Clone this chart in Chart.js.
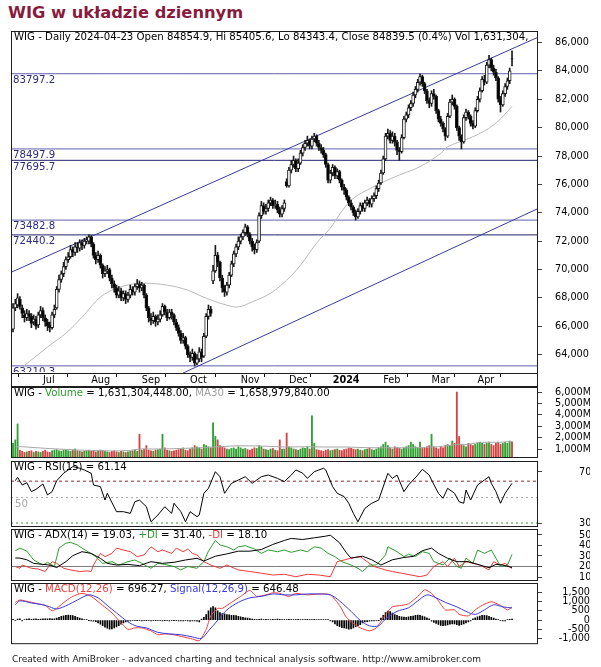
<!DOCTYPE html>
<html lang="pl">
<head>
<meta charset="UTF-8">
<meta name="viewport" content="width=device-width, initial-scale=1.0">
<title>WIG w układzie dziennym</title>
<style>
  body { margin: 0; background: #fff; font-family: 'DejaVu Sans', Verdana, sans-serif; }
  .page { position: relative; width: 601px; height: 667px; overflow: hidden; }
  .page canvas { position: absolute; left: 0; top: 0; }
  .title { position: absolute; left: 8px; top: 3px; margin: 0; font-size: 16.3px; line-height: 19px; font-weight: bold; color: #8a1a3c; white-space: nowrap; }
  .footer { position: absolute; left: 12px; top: 654px; font-size: 9px; line-height: 11px; color: #222; white-space: nowrap; }
</style>
</head>
<body>
<div class="page">
  <h1 class="title">WIG w układzie dziennym</h1>
  <canvas id="priceChart" width="601" height="667"></canvas>
  <canvas id="volChart" width="601" height="667"></canvas>
  <canvas id="rsiChart" width="601" height="667"></canvas>
  <canvas id="adxChart" width="601" height="667"></canvas>
  <canvas id="macdChart" width="601" height="667"></canvas>
  <div class="footer">Created with AmiBroker - advanced charting and technical analysis software. http://www.amibroker.com</div>
</div>

<script src="https://cdn.jsdelivr.net/npm/chart.js"></script>
<script>
// WIG daily bars, 2023-06-14 .. 2024-04-23 (bar index 0..217)
const monthLabels = ['Jul', 'Aug', 'Sep', 'Oct', 'Nov', 'Dec', '2024', 'Feb', 'Mar', 'Apr'];
const monthIdx = [13, 34, 56, 77, 99, 120, 139, 161, 182, 202];

const opens = [
  65800,67300,67500,67900,67300,66800,66600,66900,66700,66300,
  66500,66100,66800,67100,66600,66300,66100,65900,66800,67300,
  68600,69300,69700,70200,70700,70900,71400,71200,71600,71500,
  71900,71700,72000,72000,72300,71800,71000,70700,71000,70300,
  69700,69900,70000,69400,69000,68700,68200,68500,68000,68300,
  67900,68200,68600,68400,68800,69000,68700,68900,68200,67300,
  66600,66400,66700,66300,66500,66800,67400,67000,66600,67000,
  66800,66300,65900,65500,65000,65200,64600,64000,63800,64100,
  63400,63700,64200,63900,65300,66700,67200,69200,69900,71000,
  70500,69400,68700,68400,68900,69600,70400,71100,71600,72000,
  72300,72600,73000,72500,72000,71600,71400,72000,73800,74500,
  74100,74300,74700,74900,74500,74600,74200,73900,74300,76200,
  75900,77000,77400,77700,77100,77500,78200,78600,78900,79100,
  78700,79200,79400,78900,78600,78400,78100,77400,76300,76800,
  77200,76600,76900,76300,75800,75600,75100,74700,74400,74000,
  73700,74100,74500,74300,74700,74900,74600,75000,75200,75700,
  76100,76800,77800,79400,79600,79100,79400,79000,78400,78300,
  79300,80600,80900,81400,81700,82300,82700,83200,83600,83100,
  82600,81900,81700,82400,82200,81200,80600,80300,79900,79400,
  80800,81800,82000,81500,80000,79400,79000,80700,81100,80800,
  80300,80100,81200,82000,82600,83400,83200,84400,84800,84200,
  83900,83500,82000,81600,82400,82900,83300,84855
];
const highs = [
  67600,67900,68300,68100,67500,67100,67200,67100,66900,66800,
  66700,67000,67400,67300,66800,66500,66300,67000,67500,68800,
  69600,69900,70500,70900,71200,71700,71600,71900,71900,72100,
  72100,72200,72300,72440,72400,71900,71200,71300,71100,70400,
  70200,70300,70100,69600,69200,68900,68800,68700,68500,68500,
  68400,68900,68800,69000,69300,69200,69100,69000,68300,67400,
  66900,67000,66800,66800,67100,67600,67500,67200,67200,67200,
  66900,66500,66100,65700,65500,65300,64700,64200,64400,64200,
  64000,64500,64400,65500,66900,67500,67400,70300,71700,71200,
  70600,69600,68900,69100,69800,70600,71300,71800,72300,72500,
  72800,73200,73100,72600,72200,71800,72100,74000,74800,74700,
  74600,74900,75100,75000,74900,74800,74400,74500,74900,76400,
  77200,77700,78000,77800,77800,78400,78800,79100,79400,79200,
  79400,79600,79500,79100,78800,78600,78200,77500,77000,77400,
  77300,77100,77000,76400,76000,75700,75200,74900,74500,74200,
  74300,74700,74700,74900,75100,75000,75200,75400,75900,76300,
  77000,78000,79600,79900,79800,79700,79600,79100,78600,79500,
  80800,81100,81600,81900,82500,82900,83400,83797,83700,83200,
  82700,82100,82600,82700,82300,81300,80800,80400,80000,81000,
  82000,82300,82100,81600,80100,79500,80900,81300,81200,80900,
  80500,81400,82200,82800,83600,83700,84600,85100,84900,84400,
  84100,83600,82200,82600,83100,83500,84200,85406
];
const lows = [
  65600,67100,67300,67200,66600,66300,66400,66400,65900,66100,
  65800,65900,66600,66400,66000,65700,65600,65800,66600,67200,
  68400,69100,69500,70000,70500,70800,70900,71000,71200,71300,
  71400,71500,71800,71800,71600,70800,70400,70500,70100,69400,
  69500,69700,69200,68700,68400,68000,68000,67800,67800,67600,
  67700,68000,68200,68200,68600,68400,68500,68000,67100,66300,
  66100,66200,66000,66100,66300,66700,66800,66400,66500,66500,
  66100,65700,65300,64800,64800,64400,63800,63500,63600,63210,
  63300,63500,63500,63800,65200,66500,66700,69000,69800,70200,
  69200,68400,68100,68200,68700,69500,70200,70900,71400,71800,
  72100,72400,72300,71800,71300,71100,71200,71900,73600,73900,
  73900,74100,74500,74300,74300,74000,73700,73700,74100,75800,
  75800,76800,77200,76900,76900,77400,78000,78400,78700,78500,
  78500,79000,78700,78400,78200,77900,77200,76100,76100,76600,
  76400,76400,76100,75600,75300,74900,74500,74200,73800,73483,
  73600,73900,74100,74100,74500,74400,74400,74800,75000,75500,
  76000,76700,77700,79200,78900,78900,78700,78100,77696,78200,
  79200,80400,80700,81200,81500,82100,82500,83000,82900,82400,
  81700,81400,81500,82000,81000,80400,80100,79700,79100,79300,
  80700,81600,81300,79800,79100,78498,78900,80500,80600,80100,
  79900,80000,81100,81800,82500,83000,83100,84200,84000,83700,
  83300,81800,81100,81500,82200,82700,83100,84343
];
const closes = [
  67300,67600,68000,67400,66900,66600,66900,66700,66200,66500,
  66000,66800,67100,66600,66300,66000,65900,66800,67200,68600,
  69300,69700,70200,70700,70900,71400,71200,71600,71500,71900,
  71700,72000,72100,72300,71800,71000,70700,71000,70300,69700,
  69900,70000,69400,69000,68700,68200,68500,68000,68300,67900,
  68200,68600,68400,68800,69000,68700,68900,68200,67300,66600,
  66400,66700,66300,66500,66800,67400,67000,66600,67000,66800,
  66300,65900,65500,65000,65200,64600,64000,63800,64100,63400,
  63700,64200,63800,65300,66700,67200,66900,69900,71000,70500,
  69400,68700,68400,68900,69600,70400,71100,71600,72000,72300,
  72600,73000,72500,72000,71600,71400,71900,73800,74500,74100,
  74300,74700,74900,74500,74600,74200,73900,74300,74700,75900,
  77000,77400,77700,77100,77500,78200,78600,78900,79100,78700,
  79200,79400,78900,78600,78400,78100,77400,76300,76800,77200,
  76600,76900,76300,75800,75600,75100,74700,74400,74000,73700,
  74100,74500,74300,74700,74900,74600,75000,75200,75700,76100,
  76800,77800,79400,79600,79100,79400,79000,78400,78300,79300,
  80600,80900,81400,81700,82300,82700,83200,83600,83100,82600,
  81900,81700,82400,82200,81200,80600,80300,79900,79400,80800,
  81800,82000,81500,80000,79400,79000,80700,81100,80800,80300,
  80100,81200,82000,82600,83400,83200,84400,84800,84200,83900,
  83500,82000,81600,82400,82900,83300,84000,84839.5
];
// volume in millions
const volumes = [
  1500,1800,3200,900,800,700,750,800,850,700,
  800,750,700,800,900,750,700,850,900,950,
  850,800,900,950,850,800,900,1000,850,800,
  750,800,850,900,800,850,750,800,900,850,
  800,750,700,800,850,750,700,800,750,700,
  750,800,850,900,800,2300,900,1000,1300,900,
  850,800,900,950,1000,2300,1100,900,850,800,
  850,900,950,1000,1100,900,850,1000,1100,1300,
  1200,1100,1000,1400,1300,1200,1100,3300,2100,1800,
  1300,1200,1100,1000,950,1050,1100,1000,1200,1100,
  1000,1050,950,900,1000,1100,1050,1300,1200,1000,
  950,900,1000,1050,900,850,1800,1000,1000,2400,
  1200,1100,1000,950,900,1000,1100,1050,1200,1000,
  3900,1500,950,900,850,800,900,950,850,900,
  950,1000,900,850,950,1000,1100,1050,1000,950,
  1000,900,850,950,1000,1100,950,900,1000,1100,
  1200,1400,1600,1300,1100,1000,1200,1100,1050,1000,
  1100,1200,1300,1600,1400,1200,1100,1600,1050,1100,
  1200,1300,2300,1200,1100,1000,1200,1100,1300,1400,
  1300,1700,1500,6000,2100,1400,1300,1200,1500,1400,
  1300,1400,1500,1600,1500,1400,1500,1600,1400,1300,
  1500,1600,1400,1500,1600,1500,1700,1631
];

// gray moving average on price
const maIdx = [4,16,23,30,38,45,52,57,67,76,84,93,98,104,112,119,125,132,138,144,149,154,160,168,177,186,189,200,209,217];
const maVal = [63110,64660,65510,66640,68050,68680,68970,69040,68900,68540,67980,67490,67370,67720,68330,69250,70300,71860,72920,74330,75130,75600,76090,76660,77250,78180,78650,79360,80190,81480];

// horizontal support / resistance levels and trend channel
const levelValues = [83797.2, 78497.9, 77695.7, 73482.8, 72440.2, 63210.3];
const levelDark = [false, false, true, false, true, false];
const upperChannelX = [-0.9, 228.3];
const upperChannelY = [69800, 86370];
const lowerChannelX = [73.9, 228.3];
const lowerChannelY = [62700, 74296];

// volume MA30 (millions)
const vmaIdx = [1,4,14,28,44,51,55,65,75,81,90,98,108,118,128,135,145,155,165,175,185,193,198,203,212,217];
const vmaVal = [1200,1200,1060,910,820,880,1000,1000,1060,1110,1200,1290,1260,1175,1200,1175,1175,1110,1110,1110,1200,1410,1410,1590,1590,1659];

// RSI(15)
const rsiIdx = [1,2,4,6,8,10,13,15,17,19,22,24,26,29,31,34,35,38,40,41,45,48,51,53,55,58,60,63,66,69,70,73,75,77,80,81,83,85,88,90,92,95,98,101,104,106,108,111,115,118,121,123,126,128,131,135,136,139,141,144,146,148,150,153,156,159,162,163,165,167,170,172,176,178,181,182,185,187,189,192,194,196,197,199,202,205,207,208,210,212,214,217];
const rsiVal = [63.2,65.8,59.8,61.6,54.6,56.4,60.6,52,54.6,63.2,69,71.6,74.2,72.9,71.6,69,59.8,58.5,48,53.3,38.9,38.9,37.6,46.7,48,42.8,31,36.3,42.8,37.6,45.5,38.9,31,38.9,35,36.3,53.3,57.2,70.2,66.3,53.3,61.1,63.7,66.3,61.1,63.7,66.3,67.6,65,62.4,67.6,71.6,69,65,70.2,72.9,71.6,58.5,53.3,50.7,45.5,37.6,31,41.5,45.5,48,63.7,69,65,67.6,54.6,59.8,67.6,72.1,67.6,63.7,53.3,49.4,57.2,53.3,46.7,45.5,55.9,48,59.8,63.7,66.3,61.1,54.6,45.5,53.3,61.14];
const rsiLevels = [62.8, 50, 30];

// ADX(14), +DI, -DI
const adxIdx = [1,3,6,9,13,16,19,23,26,30,34,38,41,45,50,55,60,65,70,75,80,83,88,93,98,103,108,113,118,121,126,131,136,138,142,145,147,152,156,160,165,170,174,178,182,185,189,193,198,203,207,210,213,217];
const adxVal = [28.1,28,26.4,23,22,21.4,19,24.6,30.3,34.1,32.5,27.8,23,21.4,22,20.8,24.6,23,24,26.2,27.8,25.2,29.8,32,34.6,34.6,36.2,41,44.8,46.7,45.7,47.3,48.9,49.8,42.6,33,28,29.8,26.4,21.4,26.4,28.6,29.6,35,37.5,32.5,27.8,24.6,24.6,21.4,18.9,22,21.4,19.03];
const pdiIdx = [1,3,6,9,13,15,18,20,23,25,28,30,33,36,39,43,46,50,53,56,60,63,66,70,73,76,80,83,85,88,90,93,96,98,101,105,108,111,115,118,121,125,128,131,134,137,140,143,147,150,152,155,158,162,163,167,170,172,175,178,181,183,187,190,193,195,197,200,202,205,208,210,212,215,217];
const pdiVal = [35,37.5,34.6,26.2,21.4,24,20,37.5,42.2,43,40.5,37.5,33.5,29.4,23,24.6,21.4,24.6,26.2,23,18.3,23,22,20,16.7,20,18.3,24.6,34.6,44.8,40.5,38.8,35.7,38.8,39.8,36.7,32.5,35.7,34.1,35.7,33.5,35.7,34.1,38.8,37.5,32.5,29.4,24.6,21.4,18.3,15.2,21.4,21.4,31,38.8,34.1,29.4,31.7,29.4,34.1,32.5,24.6,21.4,28,20,18.3,28,23,35.7,32.5,35.7,28,20,21.4,31.4];
const mdiIdx = [1,3,4,8,11,14,17,19,22,25,29,32,34,35,38,40,43,45,48,51,54,57,60,63,65,69,71,74,76,78,80,83,86,90,93,98,103,108,113,118,123,128,133,138,141,144,147,151,154,157,162,165,169,173,177,180,183,187,189,192,194,197,200,203,207,209,212,214,217];
const mdiVal = [20,18.3,21.4,18.3,17.6,15.2,24.6,23,18.3,16.7,15.2,15.8,15.2,21.4,32.5,29.4,32.5,37.5,35.7,34.1,29.4,31,38.8,34.1,35.7,32.5,37.5,34.1,36.7,32.5,31,24.6,21.4,18.3,21.4,16.7,15.2,13.6,11.9,12.6,10.3,12.6,11.9,10.3,24.6,26.2,28,29.4,24.6,20,16.7,15.2,13.6,11.9,10.3,11.9,20,24.6,20,28,20,24.6,23,21.4,16.7,24.6,21.4,23,18.1];

// MACD(12,26), Signal(12,26,9), histogram per bar
const macdIdx = [1,3,8,11,14,17,19,23,26,30,34,39,43,46,50,53,56,60,63,66,70,74,78,81,84,86,89,91,95,99,103,106,110,113,116,120,123,128,133,138,142,145,148,151,155,158,162,165,169,172,176,179,182,185,188,192,194,198,201,204,208,212,215,217];
const macdVal = [947,1073,947,866,784,496,625,1025,1266,1428,1266,784,385,-16,-497,-417,-417,-577,-785,-737,-785,-898,-1010,-1106,-497,225,625,625,947,1266,1587,1266,1347,1459,1427,1266,1427,1347,1395,1347,784,144,-176,-417,-577,-417,304,706,784,866,1266,1620,1427,1025,545,545,304,225,545,784,978,784,545,696];
const sigIdx = [1,3,8,13,16,19,24,28,33,37,41,45,50,54,58,63,68,73,78,82,85,89,93,98,103,108,113,118,123,128,133,138,142,147,151,155,159,162,167,172,176,180,184,188,193,197,201,205,209,213,217];
const sigVal = [818,1025,914,818,706,593,818,1073,1347,1187,784,385,-96,-337,-417,-657,-737,-785,-898,-978,-577,-16,545,947,1187,1266,1395,1347,1347,1395,1395,1347,1025,465,-16,-305,-305,64,465,658,1025,1347,1187,947,706,465,304,545,818,706,646];
const histVal = [
  40,-30,50,60,-40,30,50,60,40,50,60,40,
  50,60,70,60,80,70,
  60,100,150,200,230,260,270,260,240,200,150,100,60,
  30,20,-20,-40,-60,
  -80,-150,-220,-300,-380,-430,-480,-470,-420,-360,-300,-220,-150,
  -100,-60,-40,-30,
  -30,-20,-30,-40,-30,-20,-30,-40,-30,-20,-30,-30,-40,-20,-30,-40,-30,-20,-30,-40,-50,-40,-30,-50,-60,-40,-50,-60,
  -100,50,150,
  300,500,650,720,650,
  500,400,350,330,300,280,260,250,240,200,180,150,120,100,80,
  50,40,30,40,50,30,40,30,20,40,30,50,40,30,20,30,40,30,20,30,40,30,20,30,40,20,30,40,30,20,30,20,30,20,-40,
  -100,-200,-300,-350,-400,-420,
  -450,-480,-470,-420,-350,-300,-250,-150,
  -100,-80,-60,-50,-40,-30,-20,
  100,250,400,480,450,
  380,300,250,200,180,160,150,180,200,220,250,270,260,220,180,120,60,
  -60,-120,-180,-230,-280,-300,-290,-260,-220,-200,-210,-250,-280,-250,-200,-150,-100,-50,
  60,120,180,220,250,260,240,200,150,100,50,20,
  -30,-50,-40,30,40,50
];

const priceTicks = [64000,66000,68000,70000,72000,74000,76000,78000,80000,82000,84000,86000];
const volTicks = [1000,2000,3000,4000,5000,6000];
const rsiTicks = [30, 70];
const adxTicks = [10, 20, 30, 40, 50];
const macdTicks = [-1000, -500, 0, 500, 1000, 1500];

// ---------------------------------------------------------------
const X_MIN = -0.87, X_MAX = 228.3;
const NOTE_FONT = "10.2px 'DejaVu Sans'";
Chart.defaults.font.family = "'DejaVu Sans', Verdana, sans-serif";
Chart.defaults.font.size = 9.7;
Chart.defaults.color = '#000';

const pts = (xs, ys) => xs.map((x, i) => ({ x: x, y: ys[i] }));
const flat = (v) => [{ x: X_MIN, y: v }, { x: X_MAX, y: v }];
const line = (data, color, extra) => Object.assign({
  type: 'line', data: data, borderColor: color, borderWidth: 1,
  pointRadius: 0, tension: 0, order: 5
}, extra || {});

// pane frame, title and level labels
const panePlugin = {
  id: 'pane',
  afterDatasetsDraw(chart, args, o) {
    const { ctx, chartArea: a } = chart;
    const ys = chart.scales.y;
    ctx.save();
    ctx.beginPath();
    ctx.rect(a.left + 1, a.top + 1, a.width - 2, a.height - 2);
    ctx.clip();
    ctx.font = NOTE_FONT;
    ctx.textBaseline = 'top';
    (o.notes || []).forEach(n => {
      ctx.fillStyle = n.color;
      ctx.fillText(n.text, a.left + n.dx, ys.getPixelForValue(n.value) + 1.5);
    });
    ctx.textBaseline = 'middle';
    let x = a.left + 3;
    (o.title || []).forEach(([t, c]) => {
      ctx.fillStyle = c;
      ctx.fillText(t, x, a.top + 6.5);
      x += ctx.measureText(t).width;
    });
    ctx.restore();

    ctx.save();
    ctx.strokeStyle = '#1e1e1e';
    ctx.lineWidth = 1;
    const bottom = o.boxBottom || a.bottom;
    ctx.strokeRect(a.left + 0.5, a.top + 0.5, a.width - 1, bottom - a.top - 1);
    if (o.boxBottom) {
      ctx.beginPath();
      ctx.moveTo(a.left, a.bottom + 0.5);
      ctx.lineTo(a.right, a.bottom + 0.5);
      ctx.stroke();
    }
    ctx.restore();
  }
};

function yAxis(min, max, ticks, fmt, pad, far) {
  return {
    position: 'right', min: min, max: max,
    afterBuildTicks: s => { s.ticks = ticks.map(v => ({ value: v })); },
    afterFit: s => { s.width = 52; },
    ticks: { padding: pad, autoSkip: false, crossAlign: far ? 'far' : 'near', callback: fmt, color: '#000' },
    grid: { drawOnChartArea: false, drawTicks: true, tickLength: 4, color: '#444' },
    border: { display: false }
  };
}
const hiddenX = { type: 'linear', min: X_MIN, max: X_MAX, offset: false, display: false };

function makeChart(id, datasets, y, top, bottom, pane, x) {
  return new Chart(document.getElementById(id), {
    type: 'bar',
    data: { datasets: datasets },
    options: {
      responsive: false, animation: false, events: [],
      layout: { padding: { left: 11, right: 11, top: top, bottom: 667 - bottom } },
      scales: { x: x || hiddenX, y: y },
      plugins: { legend: { display: false }, tooltip: { enabled: false }, pane: pane }
    },
    plugins: [panePlugin]
  });
}

// ---- price pane ----
const bodies = closes.map((c, i) => ({ x: i, y: [opens[i], c] }));
const wicks = closes.map((c, i) => ({ x: i, y: [lows[i], highs[i]] }));
const bodyColors = closes.map((c, i) => (c >= opens[i] ? '#ffffff' : '#000000'));

const priceSets = [
  { type: 'bar', data: bodies, backgroundColor: bodyColors, borderColor: '#1a1a1a', borderWidth: 1,
    borderSkipped: false, barThickness: 3, grouped: false, order: 0 },
  { type: 'bar', data: wicks, backgroundColor: '#1a1a1a', barThickness: 1, grouped: false, order: 1 },
  line(pts(maIdx, maVal), '#b9b9b9', { tension: 0.4, order: 2 }),
  line(pts(upperChannelX, upperChannelY), '#3b3ba3', { order: 3 }),
  line(pts(lowerChannelX, lowerChannelY), '#3b3ba3', { order: 3 })
];
levelValues.forEach((v, i) => priceSets.push(line(flat(v), levelDark[i] ? '#22226e' : '#6060ae', { order: 4 })));

makeChart('priceChart', priceSets,
  yAxis(62708, 86809, priceTicks, v => v.toLocaleString('en-US'), 13),
  31, 386,
  {
    boxBottom: 387,
    title: [['WIG - Daily 2024-04-23 Open 84854.9, Hi 85405.6, Lo 84343.4, Close 84839.5 (0.4%) Vol 1,631,304,', '#000']],
    notes: levelValues.map(v => ({ value: v, text: v.toFixed(1), color: '#2c2c7c', dx: 2 }))
  },
  {
    type: 'linear', min: X_MIN, max: X_MAX, offset: false,
    afterBuildTicks: s => { s.ticks = monthIdx.map(v => ({ value: v })); },
    afterFit: s => { s.height = 13; },
    ticks: {
      autoSkip: false, maxRotation: 0, align: 'start', padding: -2, color: '#000',
      callback: (v, i) => monthLabels[i],
      font: c => ({ size: 9.7, weight: c.index === 6 ? 'bold' : 'normal' })
    },
    grid: { drawOnChartArea: false, drawTicks: true, tickLength: 4, color: '#000' },
    border: { display: false }
  }
);

// ---- volume pane ----
const volColors = closes.map((c, i) => (c >= opens[i] ? '#33a033' : '#d24444'));
makeChart('volChart', [
  { type: 'bar', data: pts(closes.map((c, i) => i), volumes), backgroundColor: volColors,
    barThickness: 1.2, grouped: false, order: 1 },
  line(pts(vmaIdx, vmaVal), '#a8a8a8', { order: 0 })
],
  yAxis(211, 6439, volTicks, v => v.toLocaleString('en-US') + 'M', 13),
  387, 458,
  { title: [['WIG - ', '#000'], ['Volume', '#2f9a2f'], [' = 1,631,304,448.00, ', '#000'], ['MA30', '#a0a0a0'], [' = 1,658,979,840.00', '#000']] }
);

// ---- RSI pane ----
makeChart('rsiChart', [
  line(pts(rsiIdx, rsiVal), '#000', { order: 0 }),
  line(flat(rsiLevels[0]), '#9c2a2a', { borderDash: [3, 3] }),
  line(flat(rsiLevels[1]), '#a8a8a8', { borderDash: [2, 3] }),
  line(flat(rsiLevels[2]), '#3a9a3a', { borderDash: [2, 3] })
],
  yAxis(26.9, 78.6, rsiTicks, v => String(v), 37),
  461, 527,
  { title: [['WIG - RSI(15) = 61.14', '#000']], notes: [{ value: 50, text: '50', color: '#a8a8a8', dx: 4 }] }
);

// ---- ADX pane ----
makeChart('adxChart', [
  line(pts(adxIdx, adxVal), '#000', { order: 0 }),
  line(pts(pdiIdx, pdiVal), '#2f9a2f', { order: 1 }),
  line(pts(mdiIdx, mdiVal), '#f03a3a', { order: 2 }),
  line(flat(20), '#7a7a7a')
],
  yAxis(6.2, 55.7, adxTicks, v => String(v), 37),
  529, 581,
  { title: [['WIG - ADX(14) = 19.03, ', '#000'], ['+DI', '#2f9a2f'], [' = 31.40, ', '#000'], ['-DI', '#f03a3a'], [' = 18.10', '#000']] }
);

// ---- MACD pane ----
makeChart('macdChart', [
  line(pts(macdIdx, macdVal), '#f03c3c', { tension: 0.2, order: 1 }),
  line(pts(sigIdx, sigVal), '#3a3ae0', { tension: 0.3, order: 0 }),
  { type: 'bar', data: pts(histVal.map((h, i) => i), histVal), backgroundColor: '#000',
    barThickness: 1, grouped: false, order: 2 }
],
  yAxis(-1288, 1981, macdTicks, v => v.toLocaleString('en-US'), 17, true),
  583, 651,
  { title: [['WIG - ', '#000'], ['MACD(12,26)', '#f03c3c'], [' = 696.27, ', '#000'], ['Signal(12,26,9)', '#3a3ae0'], [' = 646.48', '#000']] }
);
</script>
</body>
</html>
